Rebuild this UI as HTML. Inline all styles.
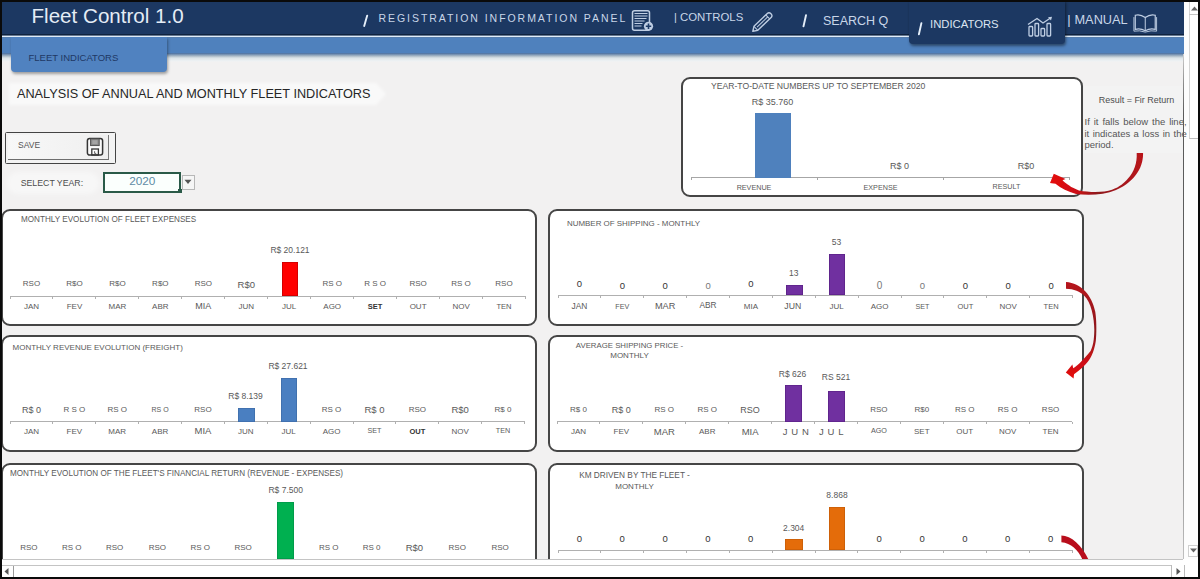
<!DOCTYPE html>
<html><head><meta charset="utf-8"><title>Fleet Control 1.0</title>
<style>
*{margin:0;padding:0;box-sizing:border-box;}
html,body{width:1200px;height:579px;overflow:hidden;background:#f2f1f1;}
body{position:relative;font-family:"Liberation Sans", Arial, sans-serif;}
.a{position:absolute;}
.t{position:absolute;white-space:nowrap;}
.panel{position:absolute;background:#fff;border:2px solid #454545;border-radius:9px;}
svg{position:absolute;overflow:visible;}
</style></head><body>

<div class="a" style="left:1183px;top:0px;width:17px;height:579px;background:#fdfdfd;"></div>
<div class="a" style="left:0px;top:0px;width:1183.5px;height:37px;background:linear-gradient(#1c3862 0px,#1c3862 33.5px,#10233f 34.5px,#142b4c 35.3px,#e2eef9 35.8px,#e2eef9 36.7px,#6f8fb5 37px);"></div>
<div class="a" style="left:0px;top:37px;width:1183.5px;height:25px;background:linear-gradient(#5a7ca6 0px,#4f81bd 1.5px,#4f81bd 15.5px,#5679a6 16.5px,#a9b9c6 19px,#dce4e8 21px,#eef2f4 24px,#f2f1f1 25px);"></div>
<div class="a" style="left:11px;top:37px;width:156px;height:35px;background:#5082c0;border-radius:0 0 4px 4px;box-shadow:1px 2px 3px rgba(0,0,0,0.35);"></div>
<div class="t" style="top:52.3px;font-size:9.5px;line-height:11.4px;color:#1f3864;left:28.5px;">FLEET INDICATORS</div>
<div class="t" style="top:3.94px;font-size:20.6px;line-height:24.72px;color:#e4ecf5;left:31.5px;">Fleet Control 1.0</div>
<div class="t" style="top:11.9px;font-size:10.5px;line-height:12.6px;color:#c9d6e8;letter-spacing:1.95px;left:378.5px;">REGISTRATION INFORMATION PANEL</div>
<div class="t" style="top:11.4px;font-size:11px;line-height:13.2px;color:#c9d6e8;left:670.5px;width:10px;text-align:center;">|</div>
<div class="t" style="top:10.96px;font-size:11.4px;line-height:13.68px;color:#c9d6e8;left:680px;">CONTROLS</div>
<div class="t" style="top:13.6px;font-size:12.5px;line-height:15.0px;color:#c9d6e8;left:823px;">SEARCH Q</div>
<div class="a" style="left:909px;top:0px;width:156px;height:44px;background:#1c3862;border-radius:0 0 4px 4px;box-shadow:1px 2px 3px rgba(0,0,0,0.45);"></div>
<div class="t" style="top:18.22px;font-size:11.3px;line-height:13.56px;color:#dbe4f0;left:930px;">INDICATORS</div>
<div class="t" style="top:12.2px;font-size:13px;line-height:15.6px;color:#c9d6e8;left:1064.0px;width:10px;text-align:center;">|</div>
<div class="t" style="top:11.75px;font-size:12.75px;line-height:15.3px;color:#c9d6e8;left:1074.5px;">MANUAL</div>
<svg style="left:0;top:0" width="1200" height="40" viewBox="0 0 1200 40">
<path d="M367.2 15.6 L364.2 26 M806 15.3 L803.5 26.3 M921.4 23.1 L918.9 34.3" stroke="#e4eef9" stroke-width="1.9" stroke-linecap="round"/>
</svg>
<svg style="left:630px;top:9px" width="24" height="24" viewBox="0 0 24 24">
<rect x="2.5" y="1.8" width="17" height="19.5" rx="2" fill="none" stroke="#bfcee3" stroke-width="1.5"/>
<path d="M4.5 4.5h13M4.5 7h13M4.5 9.5h12M4.5 12h10M4.5 14.5h8M4.5 17h7" stroke="#bfcee3" stroke-width="1.1"/>
<circle cx="18.5" cy="17.3" r="4.6" fill="#bfcee3"/>
<path d="M18.5 14.6v5.4M15.8 17.3h5.4" stroke="#1d3a66" stroke-width="1.6"/>
</svg>
<svg style="left:748px;top:9px" width="28" height="26" viewBox="0 0 28 26">
<g transform="translate(13.6 13.8) rotate(-44) scale(1.06)">
<path d="M-11.5 0 L-7.5 -2.6 L10 -2.6 Q12.3 -2.6 12.3 0 Q12.3 2.6 10 2.6 L-7.5 2.6 Z" fill="none" stroke="#bfcee3" stroke-width="1.3" stroke-linejoin="round"/>
<path d="M-7.5 -2.6 L-7.5 2.6 M8 -2.6 L8 2.6 M-6 0 L8 0" stroke="#bfcee3" stroke-width="0.9"/>
</g></svg>
<svg style="left:1026px;top:15px" width="28" height="23" viewBox="0 0 28 23">
<path d="M2 9.5 L11 3.5 L17 8 L24.5 3" fill="none" stroke="#bfcee3" stroke-width="1.4"/>
<path d="M22 2.2 L26 1.8 L25 5.5 Z" fill="#bfcee3"/>
<rect x="3" y="11.5" width="3.6" height="9.5" rx="0.8" fill="none" stroke="#bfcee3" stroke-width="1.3"/>
<rect x="9" y="8.5" width="3.6" height="12.5" rx="0.8" fill="none" stroke="#bfcee3" stroke-width="1.3"/>
<rect x="15" y="13.5" width="3.6" height="7.5" rx="0.8" fill="none" stroke="#bfcee3" stroke-width="1.3"/>
<rect x="21" y="8.5" width="3.6" height="12.5" rx="0.8" fill="none" stroke="#bfcee3" stroke-width="1.3"/>
</svg>
<svg style="left:1133px;top:12.6px" width="24.5" height="20" viewBox="0 0 27 22">
<path d="M13.5 5 Q8 1 2.5 2.5 L2.5 18 Q8 16.5 13.5 19.5 Q19 16.5 24.5 18 L24.5 2.5 Q19 1 13.5 5 Z" fill="none" stroke="#bfcee3" stroke-width="1.3"/>
<path d="M13.5 5 L13.5 19.5" stroke="#bfcee3" stroke-width="1.1"/>
<path d="M1 4.5 L1 20 Q7 18.8 13.5 21 Q20 18.8 26 20 L26 4.5" fill="none" stroke="#bfcee3" stroke-width="1"/>
</svg>
<svg style="left:0;top:0" width="400" height="120"><defs><filter id="gl"><feGaussianBlur stdDeviation="1.5"/></filter></defs><path d="M9 83 H376 L386 94 L376 105 H9 Z" fill="#f9f9f9" filter="url(#gl)"/></svg>
<div class="t" style="top:86.68px;font-size:12.7px;line-height:15.24px;color:#262626;left:17px;">ANALYSIS OF ANNUAL AND MONTHLY FLEET INDICATORS</div>
<div class="a" style="left:5px;top:132px;width:111px;height:32px;border:1.8px solid #444;border-radius:1.5px;background:#f3f3f3;"></div>
<div class="a" style="left:8px;top:135px;width:100.5px;height:25px;background:linear-gradient(90deg,#f8f8f8,#efefef);border-right:1.2px solid #7a7a7a;border-bottom:1.8px solid #6e6e6e;"></div>
<div class="t" style="top:139.9px;font-size:8.5px;line-height:10.2px;color:#555;left:18px;">SAVE</div>
<svg style="left:86px;top:137px" width="19" height="20" viewBox="0 0 19 20">
<rect x="1.4" y="1.5" width="15.2" height="16.6" rx="2.3" fill="#fafafa" stroke="#353535" stroke-width="1.5"/>
<rect x="4.6" y="1.8" width="8.6" height="6.8" fill="#8a8a8a" stroke="#4a4a4a" stroke-width="0.9"/>
<rect x="6.3" y="3.2" width="5.2" height="3.8" fill="#a5a5a5"/>
<rect x="5.8" y="12" width="6.6" height="6" fill="none" stroke="#353535" stroke-width="1.3"/>
<path d="M8.6 14.2 L8.6 16.4 L10.2 16.4" fill="none" stroke="#555" stroke-width="0.9"/>
</svg>
<svg style="left:0;top:160px" width="110" height="45"><defs><filter id="gl2"><feGaussianBlur stdDeviation="2"/></filter></defs><rect x="7" y="12" width="92" height="22" rx="11" fill="#f7f7f7" filter="url(#gl2)"/></svg>
<div class="t" style="top:177.85px;font-size:8.75px;line-height:10.5px;color:#4d4d4d;left:20.7px;">SELECT YEAR:</div>
<div class="a" style="left:102.5px;top:172px;width:78px;height:20.5px;border:2px solid #2a5a48;background:#fbfffd;"></div>
<div class="t" style="top:174.22px;font-size:11.8px;line-height:14.16px;color:#5f8ca5;left:82.3px;width:120px;text-align:center;">2020</div>
<div class="a" style="left:178px;top:189px;width:4px;height:4px;background:#2a5a48;"></div>
<div class="a" style="left:181.5px;top:175px;width:13px;height:14.5px;border:1px solid #b8b8b8;background:#f6f6f6;"></div>
<svg style="left:184px;top:179px" width="8" height="6" viewBox="0 0 8 6"><path d="M0.5 0.8 H7.5 L4 5 Z" fill="#555"/></svg>
<div class="panel" style="left:680.5px;top:77px;width:402.5px;height:120px;"></div>
<div class="t" style="top:80.82px;font-size:8.63px;line-height:10.36px;color:#595959;left:711px;">YEAR-TO-DATE NUMBERS UP TO SEPTEMBER 2020</div>
<div class="a" style="left:691.3px;top:177.2px;width:378.5px;height:1px;background:#a6a6a6;"></div>
<div class="a" style="left:690.8px;top:177.2px;width:1px;height:3px;background:#a6a6a6;"></div>
<div class="a" style="left:817.0px;top:177.2px;width:1px;height:3px;background:#a6a6a6;"></div>
<div class="a" style="left:943.2px;top:177.2px;width:1px;height:3px;background:#a6a6a6;"></div>
<div class="a" style="left:1068.8px;top:177.2px;width:1px;height:3px;background:#a6a6a6;"></div>
<div class="a" style="left:754.5px;top:113px;width:36.0px;height:64.5px;background:#4f81bd;box-shadow:inset 0 0 0 0.8px #4f81bd;"></div>
<div class="t" style="top:97.1px;font-size:9px;line-height:10.8px;color:#595959;left:712.5px;width:120px;text-align:center;">R$ 35.760</div>
<div class="t" style="top:160.6px;font-size:9px;line-height:10.8px;color:#595959;left:839.5px;width:120px;text-align:center;">R$ 0</div>
<div class="t" style="top:160.6px;font-size:9px;line-height:10.8px;color:#595959;left:966.0px;width:120px;text-align:center;">R$0</div>
<div class="t" style="top:183.98px;font-size:7.2px;line-height:8.64px;color:#595959;left:694.0px;width:120px;text-align:center;">REVENUE</div>
<div class="t" style="top:183.98px;font-size:7.2px;line-height:8.64px;color:#595959;left:820.5px;width:120px;text-align:center;">EXPENSE</div>
<div class="t" style="top:183.48px;font-size:7.2px;line-height:8.64px;color:#595959;left:946.5px;width:120px;text-align:center;">RESULT</div>
<div class="panel" style="left:1px;top:209px;width:536px;height:117px;"></div>
<div class="t" style="top:215.22px;font-size:8.14px;line-height:9.77px;color:#595959;left:21px;">MONTHLY EVOLUTION OF FLEET EXPENSES</div>
<div class="a" style="left:10px;top:295.5px;width:515.5px;height:1px;background:#b0b0b0;"></div>
<div class="a" style="left:9.5px;top:296px;width:1px;height:2.5px;background:#b0b0b0;"></div>
<div class="a" style="left:52.46px;top:296px;width:1px;height:2.5px;background:#b0b0b0;"></div>
<div class="a" style="left:95.42px;top:296px;width:1px;height:2.5px;background:#b0b0b0;"></div>
<div class="a" style="left:138.38px;top:296px;width:1px;height:2.5px;background:#b0b0b0;"></div>
<div class="a" style="left:181.33px;top:296px;width:1px;height:2.5px;background:#b0b0b0;"></div>
<div class="a" style="left:224.29px;top:296px;width:1px;height:2.5px;background:#b0b0b0;"></div>
<div class="a" style="left:267.25px;top:296px;width:1px;height:2.5px;background:#b0b0b0;"></div>
<div class="a" style="left:310.21px;top:296px;width:1px;height:2.5px;background:#b0b0b0;"></div>
<div class="a" style="left:353.17px;top:296px;width:1px;height:2.5px;background:#b0b0b0;"></div>
<div class="a" style="left:396.12px;top:296px;width:1px;height:2.5px;background:#b0b0b0;"></div>
<div class="a" style="left:439.08px;top:296px;width:1px;height:2.5px;background:#b0b0b0;"></div>
<div class="a" style="left:482.04px;top:296px;width:1px;height:2.5px;background:#b0b0b0;"></div>
<div class="a" style="left:525.0px;top:296px;width:1px;height:2.5px;background:#b0b0b0;"></div>
<div class="a" style="left:282px;top:262px;width:16px;height:34px;background:#ff0000;box-shadow:inset 0 0 0 0.8px #c80000;"></div>
<div class="t" style="top:244.9px;font-size:8.5px;line-height:10.2px;color:#595959;left:230.0px;width:120px;text-align:center;">R$ 20.121</div>
<div class="t" style="top:278.7px;font-size:8px;line-height:9.6px;color:#595959;left:-28.52px;width:120px;text-align:center;">RSO</div>
<div class="t" style="top:278.7px;font-size:8px;line-height:9.6px;color:#595959;left:14.44px;width:120px;text-align:center;">R$O</div>
<div class="t" style="top:278.7px;font-size:8px;line-height:9.6px;color:#595959;left:57.4px;width:120px;text-align:center;">R$O</div>
<div class="t" style="top:278.7px;font-size:8px;line-height:9.6px;color:#595959;left:100.35px;width:120px;text-align:center;">R$O</div>
<div class="t" style="top:278.7px;font-size:8px;line-height:9.6px;color:#595959;left:143.31px;width:120px;text-align:center;">RSO</div>
<div class="t" style="top:279.3px;font-size:9.5px;line-height:11.4px;color:#595959;left:186.27px;width:120px;text-align:center;">R$0</div>
<div class="t" style="top:278.7px;font-size:8px;line-height:9.6px;color:#595959;left:272.19px;width:120px;text-align:center;">RS O</div>
<div class="t" style="top:278.7px;font-size:8px;line-height:9.6px;color:#595959;left:315.15px;width:120px;text-align:center;">R S O</div>
<div class="t" style="top:278.7px;font-size:8px;line-height:9.6px;color:#595959;left:358.1px;width:120px;text-align:center;">RSO</div>
<div class="t" style="top:278.7px;font-size:8px;line-height:9.6px;color:#595959;left:401.06px;width:120px;text-align:center;">RS O</div>
<div class="t" style="top:278.7px;font-size:8px;line-height:9.6px;color:#595959;left:444.02px;width:120px;text-align:center;">RSO</div>
<div class="t" style="top:301.5px;font-size:8px;line-height:9.6px;color:#595959;left:-28.52px;width:120px;text-align:center;">JAN</div>
<div class="t" style="top:301.5px;font-size:8px;line-height:9.6px;color:#595959;left:14.44px;width:120px;text-align:center;">FEV</div>
<div class="t" style="top:301.5px;font-size:8px;line-height:9.6px;color:#595959;left:57.4px;width:120px;text-align:center;">MAR</div>
<div class="t" style="top:301.5px;font-size:8px;line-height:9.6px;color:#595959;left:100.35px;width:120px;text-align:center;">ABR</div>
<div class="t" style="top:300.9px;font-size:9px;line-height:10.8px;color:#595959;left:143.31px;width:120px;text-align:center;">MIA</div>
<div class="t" style="top:301.5px;font-size:8px;line-height:9.6px;color:#595959;left:186.27px;width:120px;text-align:center;">JUN</div>
<div class="t" style="top:301.5px;font-size:8px;line-height:9.6px;color:#595959;left:229.23px;width:120px;text-align:center;">JUL</div>
<div class="t" style="top:301.5px;font-size:8px;line-height:9.6px;color:#595959;left:272.19px;width:120px;text-align:center;">AGO</div>
<div class="t" style="top:301.8px;font-size:7.5px;line-height:9.0px;color:#333;font-weight:700;left:315.15px;width:120px;text-align:center;">SET</div>
<div class="t" style="top:301.5px;font-size:8px;line-height:9.6px;color:#595959;left:358.1px;width:120px;text-align:center;">OUT</div>
<div class="t" style="top:301.5px;font-size:8px;line-height:9.6px;color:#595959;left:401.06px;width:120px;text-align:center;">NOV</div>
<div class="t" style="top:301.8px;font-size:7.5px;line-height:9.0px;color:#595959;left:444.02px;width:120px;text-align:center;">TEN</div>
<div class="panel" style="left:548px;top:209px;width:536px;height:117px;"></div>
<div class="t" style="top:219.23px;font-size:7.95px;line-height:9.54px;color:#595959;left:567px;">NUMBER OF SHIPPING - MONTHLY</div>
<div class="a" style="left:558px;top:294.8px;width:514.5px;height:1px;background:#b0b0b0;"></div>
<div class="a" style="left:557.5px;top:295.3px;width:1px;height:2.5px;background:#b0b0b0;"></div>
<div class="a" style="left:600.38px;top:295.3px;width:1px;height:2.5px;background:#b0b0b0;"></div>
<div class="a" style="left:643.25px;top:295.3px;width:1px;height:2.5px;background:#b0b0b0;"></div>
<div class="a" style="left:686.12px;top:295.3px;width:1px;height:2.5px;background:#b0b0b0;"></div>
<div class="a" style="left:729.0px;top:295.3px;width:1px;height:2.5px;background:#b0b0b0;"></div>
<div class="a" style="left:771.88px;top:295.3px;width:1px;height:2.5px;background:#b0b0b0;"></div>
<div class="a" style="left:814.75px;top:295.3px;width:1px;height:2.5px;background:#b0b0b0;"></div>
<div class="a" style="left:857.62px;top:295.3px;width:1px;height:2.5px;background:#b0b0b0;"></div>
<div class="a" style="left:900.5px;top:295.3px;width:1px;height:2.5px;background:#b0b0b0;"></div>
<div class="a" style="left:943.38px;top:295.3px;width:1px;height:2.5px;background:#b0b0b0;"></div>
<div class="a" style="left:986.25px;top:295.3px;width:1px;height:2.5px;background:#b0b0b0;"></div>
<div class="a" style="left:1029.12px;top:295.3px;width:1px;height:2.5px;background:#b0b0b0;"></div>
<div class="a" style="left:1072.0px;top:295.3px;width:1px;height:2.5px;background:#b0b0b0;"></div>
<div class="a" style="left:785.5px;top:285px;width:17.0px;height:10.3px;background:#7030a0;box-shadow:inset 0 0 0 0.8px #5c2288;"></div>
<div class="a" style="left:828.8px;top:253.8px;width:16.2px;height:41.5px;background:#7030a0;box-shadow:inset 0 0 0 0.8px #5c2288;"></div>
<div class="t" style="top:267.9px;font-size:8.5px;line-height:10.2px;color:#595959;left:733.8px;width:120px;text-align:center;">13</div>
<div class="t" style="top:236.9px;font-size:8.5px;line-height:10.2px;color:#595959;left:776.5px;width:120px;text-align:center;">53</div>
<div class="t" style="top:278.1px;font-size:9.5px;line-height:11.4px;color:#333;left:519.44px;width:120px;text-align:center;">0</div>
<div class="t" style="top:279.8px;font-size:9.5px;line-height:11.4px;color:#333;left:562.31px;width:120px;text-align:center;">0</div>
<div class="t" style="top:279.8px;font-size:9.5px;line-height:11.4px;color:#333;left:605.19px;width:120px;text-align:center;">0</div>
<div class="t" style="top:279.8px;font-size:9.5px;line-height:11.4px;color:#777;left:648.06px;width:120px;text-align:center;">0</div>
<div class="t" style="top:278.1px;font-size:9.5px;line-height:11.4px;color:#333;left:690.94px;width:120px;text-align:center;">0</div>
<div class="t" style="top:279.5px;font-size:10px;line-height:12.0px;color:#777;left:819.56px;width:120px;text-align:center;">0</div>
<div class="t" style="top:279.8px;font-size:9.5px;line-height:11.4px;color:#777;left:862.44px;width:120px;text-align:center;">0</div>
<div class="t" style="top:279.8px;font-size:9.5px;line-height:11.4px;color:#333;left:905.31px;width:120px;text-align:center;">0</div>
<div class="t" style="top:279.8px;font-size:9.5px;line-height:11.4px;color:#333;left:948.19px;width:120px;text-align:center;">0</div>
<div class="t" style="top:279.8px;font-size:9.5px;line-height:11.4px;color:#333;left:991.06px;width:120px;text-align:center;">0</div>
<div class="t" style="top:301.26px;font-size:8.4px;line-height:10.08px;color:#595959;left:519.44px;width:120px;text-align:center;">JAN</div>
<div class="t" style="top:303.18px;font-size:7.2px;line-height:8.64px;color:#595959;left:562.31px;width:120px;text-align:center;">FEV</div>
<div class="t" style="top:300.78px;font-size:9.2px;line-height:11.04px;color:#595959;left:605.19px;width:120px;text-align:center;">MAR</div>
<div class="t" style="top:301.32px;font-size:8.3px;line-height:9.96px;color:#595959;left:648.06px;width:120px;text-align:center;">ABR</div>
<div class="t" style="top:301.5px;font-size:8px;line-height:9.6px;color:#595959;left:690.94px;width:120px;text-align:center;">MIA</div>
<div class="t" style="top:301.08px;font-size:8.7px;line-height:10.44px;color:#595959;left:732.8px;width:120px;text-align:center;">JUN</div>
<div class="t" style="top:301.5px;font-size:8px;line-height:9.6px;color:#595959;left:776.69px;width:120px;text-align:center;">JUL</div>
<div class="t" style="top:301.5px;font-size:8px;line-height:9.6px;color:#595959;left:819.56px;width:120px;text-align:center;">AGO</div>
<div class="t" style="top:303.18px;font-size:7.2px;line-height:8.64px;color:#595959;left:862.44px;width:120px;text-align:center;">SET</div>
<div class="t" style="top:301.8px;font-size:7.5px;line-height:9.0px;color:#595959;left:905.31px;width:120px;text-align:center;">OUT</div>
<div class="t" style="top:301.5px;font-size:8px;line-height:9.6px;color:#595959;left:948.19px;width:120px;text-align:center;">NOV</div>
<div class="t" style="top:301.8px;font-size:7.5px;line-height:9.0px;color:#595959;left:991.06px;width:120px;text-align:center;">TEN</div>
<div class="panel" style="left:1px;top:335px;width:536px;height:117px;"></div>
<div class="t" style="top:343.2px;font-size:8.0px;line-height:9.6px;color:#595959;left:12.5px;">MONTHLY REVENUE EVOLUTION (FREIGHT)</div>
<div class="a" style="left:10px;top:421.3px;width:514.5px;height:1px;background:#b0b0b0;"></div>
<div class="a" style="left:9.5px;top:421.8px;width:1px;height:2.5px;background:#b0b0b0;"></div>
<div class="a" style="left:52.38px;top:421.8px;width:1px;height:2.5px;background:#b0b0b0;"></div>
<div class="a" style="left:95.25px;top:421.8px;width:1px;height:2.5px;background:#b0b0b0;"></div>
<div class="a" style="left:138.12px;top:421.8px;width:1px;height:2.5px;background:#b0b0b0;"></div>
<div class="a" style="left:181.0px;top:421.8px;width:1px;height:2.5px;background:#b0b0b0;"></div>
<div class="a" style="left:223.88px;top:421.8px;width:1px;height:2.5px;background:#b0b0b0;"></div>
<div class="a" style="left:266.75px;top:421.8px;width:1px;height:2.5px;background:#b0b0b0;"></div>
<div class="a" style="left:309.62px;top:421.8px;width:1px;height:2.5px;background:#b0b0b0;"></div>
<div class="a" style="left:352.5px;top:421.8px;width:1px;height:2.5px;background:#b0b0b0;"></div>
<div class="a" style="left:395.38px;top:421.8px;width:1px;height:2.5px;background:#b0b0b0;"></div>
<div class="a" style="left:438.25px;top:421.8px;width:1px;height:2.5px;background:#b0b0b0;"></div>
<div class="a" style="left:481.12px;top:421.8px;width:1px;height:2.5px;background:#b0b0b0;"></div>
<div class="a" style="left:524.0px;top:421.8px;width:1px;height:2.5px;background:#b0b0b0;"></div>
<div class="a" style="left:237.5px;top:408.3px;width:17.5px;height:13.5px;background:#4a7fc1;box-shadow:inset 0 0 0 0.8px #3f6eaa;"></div>
<div class="a" style="left:281.3px;top:378.3px;width:15.7px;height:43.5px;background:#4a7fc1;box-shadow:inset 0 0 0 0.8px #3f6eaa;"></div>
<div class="t" style="top:390.9px;font-size:8.5px;line-height:10.2px;color:#595959;left:185.5px;width:120px;text-align:center;">R$ 8.139</div>
<div class="t" style="top:360.9px;font-size:8.5px;line-height:10.2px;color:#595959;left:228.0px;width:120px;text-align:center;">R$ 27.621</div>
<div class="t" style="top:404.6px;font-size:9px;line-height:10.8px;color:#595959;left:-28.56px;width:120px;text-align:center;">R$ 0</div>
<div class="t" style="top:405.2px;font-size:8px;line-height:9.6px;color:#595959;left:14.31px;width:120px;text-align:center;">R S O</div>
<div class="t" style="top:405.2px;font-size:8px;line-height:9.6px;color:#595959;left:57.19px;width:120px;text-align:center;">RS O</div>
<div class="t" style="top:405.8px;font-size:7px;line-height:8.4px;color:#595959;left:100.06px;width:120px;text-align:center;">RS O</div>
<div class="t" style="top:405.2px;font-size:8px;line-height:9.6px;color:#595959;left:142.94px;width:120px;text-align:center;">RSO</div>
<div class="t" style="top:405.2px;font-size:8px;line-height:9.6px;color:#595959;left:271.56px;width:120px;text-align:center;">RS O</div>
<div class="t" style="top:404.3px;font-size:9.5px;line-height:11.4px;color:#595959;left:314.44px;width:120px;text-align:center;">R$ 0</div>
<div class="t" style="top:405.2px;font-size:8px;line-height:9.6px;color:#595959;left:357.31px;width:120px;text-align:center;">RSO</div>
<div class="t" style="top:404.3px;font-size:9.5px;line-height:11.4px;color:#595959;left:400.19px;width:120px;text-align:center;">R$0</div>
<div class="t" style="top:405.2px;font-size:8px;line-height:9.6px;color:#595959;left:443.06px;width:120px;text-align:center;">R$ 0</div>
<div class="t" style="top:426.5px;font-size:8px;line-height:9.6px;color:#595959;left:-28.56px;width:120px;text-align:center;">JAN</div>
<div class="t" style="top:426.5px;font-size:8px;line-height:9.6px;color:#595959;left:14.31px;width:120px;text-align:center;">FEV</div>
<div class="t" style="top:426.5px;font-size:8px;line-height:9.6px;color:#595959;left:57.19px;width:120px;text-align:center;">MAR</div>
<div class="t" style="top:426.5px;font-size:8px;line-height:9.6px;color:#595959;left:100.06px;width:120px;text-align:center;">ABR</div>
<div class="t" style="top:424.8px;font-size:9.5px;line-height:11.4px;color:#595959;left:142.94px;width:120px;text-align:center;">MIA</div>
<div class="t" style="top:426.5px;font-size:8px;line-height:9.6px;color:#595959;left:185.81px;width:120px;text-align:center;">JUN</div>
<div class="t" style="top:426.5px;font-size:8px;line-height:9.6px;color:#595959;left:228.69px;width:120px;text-align:center;">JUL</div>
<div class="t" style="top:426.5px;font-size:8px;line-height:9.6px;color:#595959;left:271.56px;width:120px;text-align:center;">AGO</div>
<div class="t" style="top:426.98px;font-size:7.2px;line-height:8.64px;color:#595959;left:314.44px;width:120px;text-align:center;">SET</div>
<div class="t" style="top:426.8px;font-size:7.5px;line-height:9.0px;color:#333;font-weight:700;left:357.31px;width:120px;text-align:center;">OUT</div>
<div class="t" style="top:426.5px;font-size:8px;line-height:9.6px;color:#595959;left:400.19px;width:120px;text-align:center;">NOV</div>
<div class="t" style="top:426.98px;font-size:7.2px;line-height:8.64px;color:#595959;left:443.06px;width:120px;text-align:center;">TEN</div>
<div class="panel" style="left:548px;top:335px;width:536px;height:117px;"></div>
<div class="t" style="top:340.82px;font-size:7.8px;line-height:9.36px;color:#595959;left:569.5px;width:120px;text-align:center;">AVERAGE SHIPPING PRICE -</div>
<div class="t" style="top:351.2px;font-size:8px;line-height:9.6px;color:#595959;left:569.5px;width:120px;text-align:center;">MONTHLY</div>
<div class="a" style="left:557px;top:421.3px;width:515px;height:1px;background:#b0b0b0;"></div>
<div class="a" style="left:556.5px;top:421.8px;width:1px;height:2.5px;background:#b0b0b0;"></div>
<div class="a" style="left:599.42px;top:421.8px;width:1px;height:2.5px;background:#b0b0b0;"></div>
<div class="a" style="left:642.33px;top:421.8px;width:1px;height:2.5px;background:#b0b0b0;"></div>
<div class="a" style="left:685.25px;top:421.8px;width:1px;height:2.5px;background:#b0b0b0;"></div>
<div class="a" style="left:728.17px;top:421.8px;width:1px;height:2.5px;background:#b0b0b0;"></div>
<div class="a" style="left:771.08px;top:421.8px;width:1px;height:2.5px;background:#b0b0b0;"></div>
<div class="a" style="left:814.0px;top:421.8px;width:1px;height:2.5px;background:#b0b0b0;"></div>
<div class="a" style="left:856.92px;top:421.8px;width:1px;height:2.5px;background:#b0b0b0;"></div>
<div class="a" style="left:899.83px;top:421.8px;width:1px;height:2.5px;background:#b0b0b0;"></div>
<div class="a" style="left:942.75px;top:421.8px;width:1px;height:2.5px;background:#b0b0b0;"></div>
<div class="a" style="left:985.67px;top:421.8px;width:1px;height:2.5px;background:#b0b0b0;"></div>
<div class="a" style="left:1028.58px;top:421.8px;width:1px;height:2.5px;background:#b0b0b0;"></div>
<div class="a" style="left:1071.5px;top:421.8px;width:1px;height:2.5px;background:#b0b0b0;"></div>
<div class="a" style="left:784.5px;top:384.5px;width:17.3px;height:37.3px;background:#7030a0;box-shadow:inset 0 0 0 0.8px #5c2288;"></div>
<div class="a" style="left:828px;top:390.8px;width:16.5px;height:31.0px;background:#7030a0;box-shadow:inset 0 0 0 0.8px #5c2288;"></div>
<div class="t" style="top:368.9px;font-size:8.5px;line-height:10.2px;color:#595959;left:732.5px;width:120px;text-align:center;">R$ 626</div>
<div class="t" style="top:372.4px;font-size:8.5px;line-height:10.2px;color:#595959;left:776.0px;width:120px;text-align:center;">RS 521</div>
<div class="t" style="top:405.2px;font-size:8px;line-height:9.6px;color:#595959;left:518.46px;width:120px;text-align:center;">R$ 0</div>
<div class="t" style="top:404.6px;font-size:9px;line-height:10.8px;color:#595959;left:561.38px;width:120px;text-align:center;">R$ 0</div>
<div class="t" style="top:405.2px;font-size:8px;line-height:9.6px;color:#595959;left:604.29px;width:120px;text-align:center;">RS O</div>
<div class="t" style="top:405.2px;font-size:8px;line-height:9.6px;color:#595959;left:647.21px;width:120px;text-align:center;">RS O</div>
<div class="t" style="top:404.6px;font-size:9px;line-height:10.8px;color:#595959;left:690.12px;width:120px;text-align:center;">RSO</div>
<div class="t" style="top:405.2px;font-size:8px;line-height:9.6px;color:#595959;left:818.88px;width:120px;text-align:center;">RSO</div>
<div class="t" style="top:405.2px;font-size:8px;line-height:9.6px;color:#595959;left:861.79px;width:120px;text-align:center;">R$0</div>
<div class="t" style="top:405.2px;font-size:8px;line-height:9.6px;color:#595959;left:904.71px;width:120px;text-align:center;">RS O</div>
<div class="t" style="top:405.2px;font-size:8px;line-height:9.6px;color:#595959;left:947.62px;width:120px;text-align:center;">RS O</div>
<div class="t" style="top:405.2px;font-size:8px;line-height:9.6px;color:#595959;left:990.54px;width:120px;text-align:center;">RSO</div>
<div class="t" style="top:426.5px;font-size:8px;line-height:9.6px;color:#595959;left:518.46px;width:120px;text-align:center;">JAN</div>
<div class="t" style="top:426.5px;font-size:8px;line-height:9.6px;color:#595959;left:561.38px;width:120px;text-align:center;">FEV</div>
<div class="t" style="top:425.6px;font-size:9.5px;line-height:11.4px;color:#595959;left:604.29px;width:120px;text-align:center;">MAR</div>
<div class="t" style="top:426.5px;font-size:8px;line-height:9.6px;color:#595959;left:647.21px;width:120px;text-align:center;">ABR</div>
<div class="t" style="top:425.6px;font-size:9.5px;line-height:11.4px;color:#595959;left:690.12px;width:120px;text-align:center;">MIA</div>
<div class="t" style="top:425.6px;font-size:9.5px;line-height:11.4px;color:#595959;letter-spacing:0.6px;left:736.0px;width:120px;text-align:center;">J U N</div>
<div class="t" style="top:425.6px;font-size:9.5px;line-height:11.4px;color:#595959;letter-spacing:0.6px;left:771.5px;width:120px;text-align:center;">J U L</div>
<div class="t" style="top:426.98px;font-size:7.2px;line-height:8.64px;color:#595959;left:818.88px;width:120px;text-align:center;">AGO</div>
<div class="t" style="top:426.5px;font-size:8px;line-height:9.6px;color:#595959;left:861.79px;width:120px;text-align:center;">SET</div>
<div class="t" style="top:426.5px;font-size:8px;line-height:9.6px;color:#595959;left:904.71px;width:120px;text-align:center;">OUT</div>
<div class="t" style="top:426.5px;font-size:8px;line-height:9.6px;color:#595959;left:947.62px;width:120px;text-align:center;">NOV</div>
<div class="t" style="top:426.5px;font-size:8px;line-height:9.6px;color:#595959;left:990.54px;width:120px;text-align:center;">TEN</div>
<div class="panel" style="left:1px;top:463px;width:536px;height:140px;"></div>
<div class="t" style="top:469.11px;font-size:8.15px;line-height:9.78px;color:#595959;left:10px;">MONTHLY EVOLUTION OF THE FLEET'S FINANCIAL RETURN (REVENUE - EXPENSES)</div>
<div class="a" style="left:276.7px;top:502.3px;width:17.3px;height:56.7px;background:#00b050;box-shadow:inset 0 0 0 0.8px #00964a;"></div>
<div class="t" style="top:484.9px;font-size:8.5px;line-height:10.2px;color:#595959;left:225.7px;width:120px;text-align:center;">R$ 7.500</div>
<div class="t" style="top:542.9px;font-size:8px;line-height:9.6px;color:#595959;left:-31.08px;width:120px;text-align:center;">RSO</div>
<div class="t" style="top:542.9px;font-size:8px;line-height:9.6px;color:#595959;left:11.75px;width:120px;text-align:center;">RS O</div>
<div class="t" style="top:542.9px;font-size:8px;line-height:9.6px;color:#595959;left:54.58px;width:120px;text-align:center;">RSO</div>
<div class="t" style="top:542.9px;font-size:8px;line-height:9.6px;color:#595959;left:97.42px;width:120px;text-align:center;">RSO</div>
<div class="t" style="top:542.9px;font-size:8px;line-height:9.6px;color:#595959;left:140.25px;width:120px;text-align:center;">RS O</div>
<div class="t" style="top:542.9px;font-size:8px;line-height:9.6px;color:#595959;left:183.08px;width:120px;text-align:center;">RSO</div>
<div class="t" style="top:542.9px;font-size:8px;line-height:9.6px;color:#595959;left:268.75px;width:120px;text-align:center;">RS O</div>
<div class="t" style="top:542.9px;font-size:8px;line-height:9.6px;color:#595959;left:311.58px;width:120px;text-align:center;">RS 0</div>
<div class="t" style="top:542.0px;font-size:9.5px;line-height:11.4px;color:#595959;left:354.42px;width:120px;text-align:center;">R$0</div>
<div class="t" style="top:542.9px;font-size:8px;line-height:9.6px;color:#595959;left:397.25px;width:120px;text-align:center;">RSO</div>
<div class="t" style="top:542.9px;font-size:8px;line-height:9.6px;color:#595959;left:440.08px;width:120px;text-align:center;">RSO</div>
<div class="panel" style="left:548px;top:463px;width:536px;height:140px;"></div>
<div class="t" style="top:470.83px;font-size:8.28px;line-height:9.94px;color:#595959;left:574.5px;width:120px;text-align:center;">KM DRIVEN BY THE FLEET -</div>
<div class="t" style="top:481.8px;font-size:8px;line-height:9.6px;color:#595959;left:574.5px;width:120px;text-align:center;">MONTHLY</div>
<div class="a" style="left:558px;top:549.8px;width:514px;height:1px;background:#b0b0b0;"></div>
<div class="a" style="left:557.5px;top:550.3px;width:1px;height:2.5px;background:#b0b0b0;"></div>
<div class="a" style="left:600.33px;top:550.3px;width:1px;height:2.5px;background:#b0b0b0;"></div>
<div class="a" style="left:643.17px;top:550.3px;width:1px;height:2.5px;background:#b0b0b0;"></div>
<div class="a" style="left:686.0px;top:550.3px;width:1px;height:2.5px;background:#b0b0b0;"></div>
<div class="a" style="left:728.83px;top:550.3px;width:1px;height:2.5px;background:#b0b0b0;"></div>
<div class="a" style="left:771.67px;top:550.3px;width:1px;height:2.5px;background:#b0b0b0;"></div>
<div class="a" style="left:814.5px;top:550.3px;width:1px;height:2.5px;background:#b0b0b0;"></div>
<div class="a" style="left:857.33px;top:550.3px;width:1px;height:2.5px;background:#b0b0b0;"></div>
<div class="a" style="left:900.17px;top:550.3px;width:1px;height:2.5px;background:#b0b0b0;"></div>
<div class="a" style="left:943.0px;top:550.3px;width:1px;height:2.5px;background:#b0b0b0;"></div>
<div class="a" style="left:985.83px;top:550.3px;width:1px;height:2.5px;background:#b0b0b0;"></div>
<div class="a" style="left:1028.67px;top:550.3px;width:1px;height:2.5px;background:#b0b0b0;"></div>
<div class="a" style="left:1071.5px;top:550.3px;width:1px;height:2.5px;background:#b0b0b0;"></div>
<div class="a" style="left:785px;top:539.3px;width:18px;height:11.0px;background:#e46c0a;box-shadow:inset 0 0 0 0.8px #c85e08;"></div>
<div class="a" style="left:828.6px;top:507.4px;width:16.4px;height:42.9px;background:#e46c0a;box-shadow:inset 0 0 0 0.8px #c85e08;"></div>
<div class="t" style="top:522.5px;font-size:8.5px;line-height:10.2px;color:#595959;left:733.7px;width:120px;text-align:center;">2.304</div>
<div class="t" style="top:490.2px;font-size:8.5px;line-height:10.2px;color:#595959;left:777.0px;width:120px;text-align:center;">8.868</div>
<div class="t" style="top:532.8px;font-size:9.5px;line-height:11.4px;color:#333;left:519.42px;width:120px;text-align:center;">0</div>
<div class="t" style="top:532.8px;font-size:9.5px;line-height:11.4px;color:#333;left:562.25px;width:120px;text-align:center;">0</div>
<div class="t" style="top:532.8px;font-size:9.5px;line-height:11.4px;color:#333;left:605.08px;width:120px;text-align:center;">0</div>
<div class="t" style="top:532.8px;font-size:9.5px;line-height:11.4px;color:#333;left:647.92px;width:120px;text-align:center;">0</div>
<div class="t" style="top:532.8px;font-size:9.5px;line-height:11.4px;color:#333;left:690.75px;width:120px;text-align:center;">0</div>
<div class="t" style="top:532.8px;font-size:9.5px;line-height:11.4px;color:#333;left:819.25px;width:120px;text-align:center;">0</div>
<div class="t" style="top:532.8px;font-size:9.5px;line-height:11.4px;color:#333;left:862.08px;width:120px;text-align:center;">0</div>
<div class="t" style="top:532.8px;font-size:9.5px;line-height:11.4px;color:#333;left:904.92px;width:120px;text-align:center;">0</div>
<div class="t" style="top:532.8px;font-size:9.5px;line-height:11.4px;color:#333;left:947.75px;width:120px;text-align:center;">0</div>
<div class="t" style="top:532.8px;font-size:9.5px;line-height:11.4px;color:#333;left:990.58px;width:120px;text-align:center;">0</div>
<svg style="left:0;top:0" width="1200" height="579" viewBox="0 0 1200 579">
<defs>
<linearGradient id="g1" x1="1050" y1="0" x2="1145" y2="0" gradientUnits="userSpaceOnUse"><stop offset="0" stop-color="#e50b0d"/><stop offset="0.28" stop-color="#cc1016"/><stop offset="0.5" stop-color="#8e1a1c"/><stop offset="0.75" stop-color="#a4161b"/><stop offset="1" stop-color="#bb1119"/></linearGradient>
<linearGradient id="g2" x1="0" y1="280" x2="0" y2="378" gradientUnits="userSpaceOnUse"><stop offset="0" stop-color="#b8111a"/><stop offset="0.3" stop-color="#a0161b"/><stop offset="0.55" stop-color="#8a1a1c"/><stop offset="0.8" stop-color="#c81117"/><stop offset="1" stop-color="#e50b0d"/></linearGradient>
<filter id="bl" x="-10%" y="-10%" width="120%" height="120%"><feGaussianBlur stdDeviation="0.35"/></filter>
</defs>
<g filter="url(#bl)">
<path d="M1143,150.9 C1144,166 1136,181 1116,190 C1104,195 1088,195.5 1076,193.9 C1068,191.8 1061,188.5 1055.5,183.8 L1050,183 L1053.8,173.8 L1065.5,179 L1062.5,180.3 C1066.5,184 1071,187.5 1079,190.5 C1090,192.6 1104,192.6 1112,189.8 C1120,187 1124,183 1128,178.6 C1134,172 1137.3,163 1136.7,152.4 Z" fill="url(#g1)"/>
<path d="M1066,282 C1081,283 1092,295 1095.3,312 C1096.8,322 1096.5,335 1095.8,341 C1094.5,350 1091.5,357 1088,361.5 C1085,365.5 1080,370 1074,374.2 L1073.6,378.4 L1065.8,372.6 L1072.4,364.4 L1073.2,368.3 C1078,365.5 1086,357 1090.6,351 C1093,346 1094.2,340 1094.3,330 C1094.3,318 1091,302 1084.5,296 C1080,291.5 1074,289 1066,288.8 Z" fill="url(#g2)"/>
<path d="M1061.4,535.4 C1071,535.5 1082,545 1088.5,559.5 L1082.5,559.5 C1078,550 1071,543 1061.4,542.3 Z" fill="#b8111a"/>
</g>
</svg>
<div class="a" style="left:1084px;top:86px;width:99px;height:67px;background:#f3f3f3;"></div>
<div class="t" style="top:94.62px;font-size:8.97px;line-height:10.76px;color:#4d4d4d;left:1076.5px;width:120px;text-align:center;">Result = Fir Return</div>
<div class="t" style="top:115.6px;font-size:9.5px;line-height:11.4px;color:#555;left:1084.5px;word-spacing:1.3px;">If it falls below the line,</div>
<div class="t" style="top:127.5px;font-size:9.5px;line-height:11.4px;color:#555;left:1084.5px;word-spacing:0.8px;">it indicates a loss in the</div>
<div class="t" style="top:139.4px;font-size:9.5px;line-height:11.4px;color:#555;left:1084.5px;">period.</div>
<div class="a" style="left:1183px;top:54px;width:1px;height:505px;background:linear-gradient(#d0d0d0,#8a8a8a 6%,#5a5a5a 12%,#606060 50%,#9a9a9a 85%,#c0c0c0);"></div>
<div class="a" style="left:1188.5px;top:2px;width:9.5px;height:137px;background:#ffffff;border-left:1px solid #d4d4d4;border-bottom:1.2px solid #bdbdbd;"></div>
<div class="a" style="left:1188.5px;top:2px;width:9.5px;height:13px;border-bottom:1px solid #c4c4c4;"></div>
<svg style="left:1190.5px;top:5.5px" width="7" height="5" viewBox="0 0 7 5"><path d="M0 4.5 H7 L3.5 0.5 Z" fill="#666"/></svg>
<div class="a" style="left:1188px;top:545px;width:10px;height:12px;background:#fff;border:1px solid #d0d0d0;"></div>
<svg style="left:1190px;top:548px" width="7" height="5" viewBox="0 0 7 5"><path d="M0 0.5 H7 L3.5 4.5 Z" fill="#666"/></svg>
<div class="a" style="left:0px;top:559px;width:1200px;height:20px;background:#ffffff;"></div>
<div class="a" style="left:2px;top:558.5px;width:1181px;height:1.2px;background:#c4c4c4;"></div>
<div class="a" style="left:2px;top:565px;width:1183px;height:1.2px;background:#c4c4c4;"></div>
<div class="a" style="left:12.5px;top:566px;width:1.2px;height:11px;background:#9a9a9a;"></div>
<svg style="left:4px;top:568px" width="5" height="7" viewBox="0 0 5 7"><path d="M4.5 0 V7 L0.5 3.5 Z" fill="#555"/></svg>
<div class="a" style="left:1171px;top:565px;width:13.5px;height:12px;background:#fff;border-left:1px solid #bbb;border-right:1px solid #bbb;"></div>
<svg style="left:1176px;top:568px" width="5" height="7" viewBox="0 0 5 7"><path d="M0.5 0 V7 L4.5 3.5 Z" fill="#555"/></svg>
<div class="a" style="left:0px;top:0px;width:1200px;height:2px;background:#0a0a0a;"></div>
<div class="a" style="left:0px;top:0px;width:2px;height:579px;background:#0a0a0a;"></div>
<div class="a" style="left:1198px;top:0px;width:2px;height:579px;background:#0a0a0a;"></div>
<div class="a" style="left:0px;top:577px;width:1200px;height:2px;background:#0a0a0a;"></div>
</body></html>
